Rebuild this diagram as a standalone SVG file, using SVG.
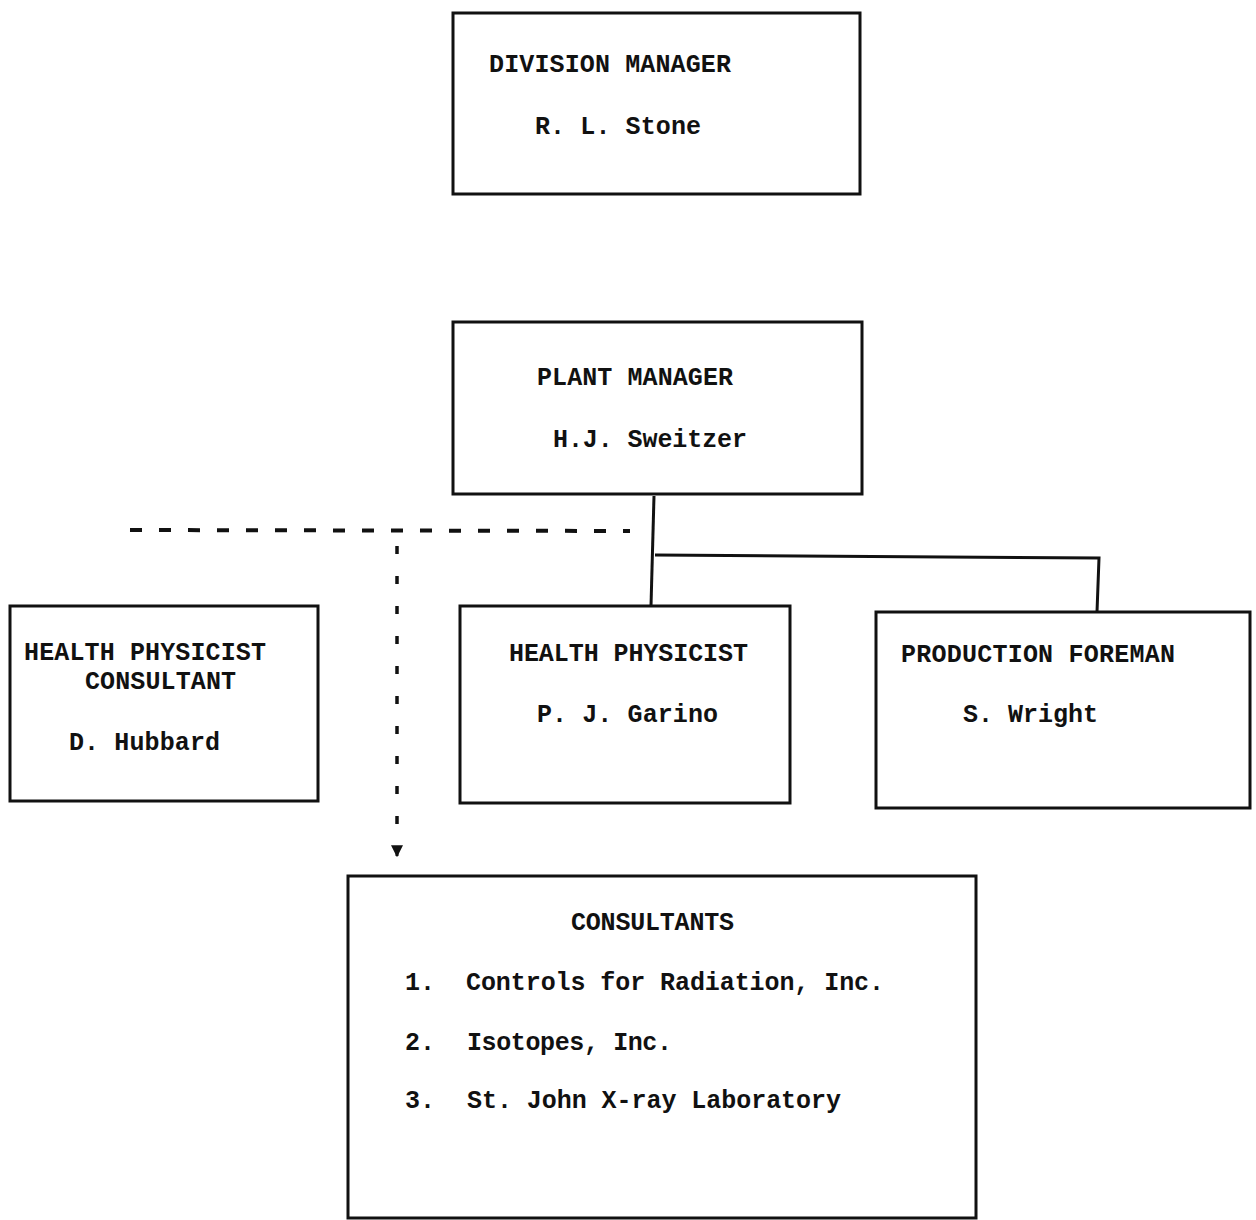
<svg xmlns="http://www.w3.org/2000/svg" width="1256" height="1220" viewBox="0 0 1256 1220">
<defs>
<style>
.box{fill:none;stroke:#111;stroke-width:3;stroke-linecap:square}
.t{font-family:"Liberation Mono","Courier New",monospace;font-weight:bold;font-size:25px;fill:#111}
.c{fill:none;stroke:#111;stroke-width:3}
.d{fill:none;stroke:#111;stroke-width:4;stroke-dasharray:12 17}
.dv{fill:none;stroke:#111;stroke-width:3.5;stroke-dasharray:8 22}
</style>
<marker id="ah" viewBox="0 0 10 10" refX="9" refY="5" markerWidth="4" markerHeight="4" orient="auto">
<path d="M0,0 L10,5 L0,10 z" fill="#111"/>
</marker>
</defs>
<rect width="1256" height="1220" fill="#fff"/>
<g id="connectors">
<path class="c" d="M654,496 L651,606"/>
<path class="c" d="M655,555 L1099,558 L1097,612"/>
<path class="d" d="M130,530 L630,531"/>
<path class="dv" d="M397,546 L397,830"/>
<path class="c" d="M397,846 L397,856" marker-end="url(#ah)"/>
</g>
<g id="division-manager">
<rect class="box" x="453" y="13" width="407" height="181"/>
<text class="t" x="489" y="72" textLength="242">DIVISION MANAGER</text>
<text class="t" x="535" y="134" textLength="166">R. L. Stone</text>
</g>
<g id="plant-manager">
<rect class="box" x="453" y="322" width="409" height="172"/>
<text class="t" x="537" y="385" textLength="196">PLANT MANAGER</text>
<text class="t" x="553" y="447" textLength="194">H.J. Sweitzer</text>
</g>
<g id="hp-consultant">
<rect class="box" x="10" y="606" width="308" height="195"/>
<text class="t" x="24" y="660" textLength="242">HEALTH PHYSICIST</text>
<text class="t" x="85" y="689" textLength="151">CONSULTANT</text>
<text class="t" x="69" y="750" textLength="151">D. Hubbard</text>
</g>
<g id="health-physicist">
<rect class="box" x="460" y="606" width="330" height="197"/>
<text class="t" x="509" y="661" textLength="239">HEALTH PHYSICIST</text>
<text class="t" x="537" y="722" textLength="181">P. J. Garino</text>
</g>
<g id="production-foreman">
<rect class="box" x="876" y="612" width="374" height="196"/>
<text class="t" x="901" y="662" textLength="274">PRODUCTION FOREMAN</text>
<text class="t" x="963" y="722" textLength="135">S. Wright</text>
</g>
<g id="consultants">
<rect class="box" x="348" y="876" width="628" height="342"/>
<text class="t" x="571" y="930" textLength="163">CONSULTANTS</text>
<text class="t" x="405" y="990">1.</text>
<text class="t" x="466" y="990" textLength="418">Controls for Radiation, Inc.</text>
<text class="t" x="405" y="1050">2.</text>
<text class="t" x="467" y="1050" textLength="205">Isotopes, Inc.</text>
<text class="t" x="405" y="1108">3.</text>
<text class="t" x="467" y="1108" textLength="374">St. John X-ray Laboratory</text>
</g>
</svg>
